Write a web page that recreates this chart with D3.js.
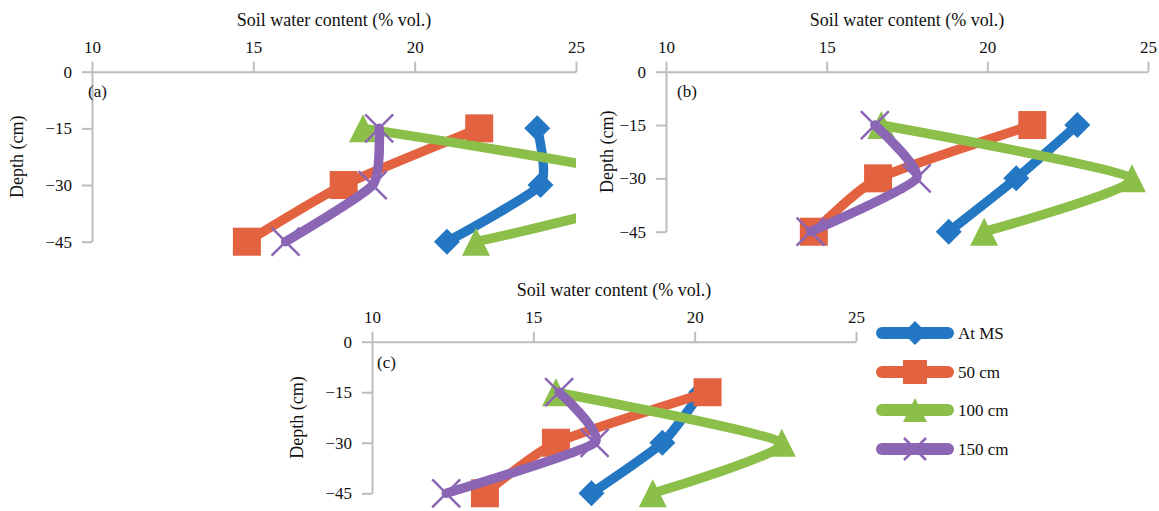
<!DOCTYPE html>
<html>
<head>
<meta charset="utf-8">
<script src="https://cdn.jsdelivr.net/npm/d3@7/dist/d3.min.js"></script>
<style>
  html, body { margin: 0; padding: 0; background: #fff; }
  svg { display: block; }
  svg text { font-family: "Liberation Serif", "Times New Roman", "DejaVu Serif", serif !important; fill: #111; }
</style>
</head>
<body>
<svg id="chart" width="1159" height="511"></svg>
<script>
// ---------- data ----------
const depths = [-15, -30, -45];
const xTicks = [10, 15, 20, 25];
const yTicks = [0, -15, -30, -45];
const seriesNames = ["At MS", "50 cm", "100 cm", "150 cm"];
const panelLabels = ["(a)", "(b)", "(c)"];
const xTitle = "Soil water content (% vol.)";
const yTitle = "Depth (cm)";

// panel (a)
const aAtMS = [23.8, 23.9, 21.0];
const a50   = [22.0, 17.8, 14.8];
const a100  = [18.4, 28.1, 21.9];
const a150  = [18.9, 18.7, 16.0];
// panel (b)
const bAtMS = [22.8, 20.9, 18.8];
const b50   = [21.4, 16.6, 14.6];
const b100  = [16.7, 24.5, 19.9];
const b150  = [16.5, 17.8, 14.5];
// panel (c)
const cAtMS = [20.2, 19.0, 16.8];
const c50   = [20.4, 15.7, 13.5];
const c100  = [15.7, 22.7, 18.7];
const c150  = [15.8, 16.9, 12.3];

// ---------- styles / layout ----------
const FONT = '"Liberation Serif", "Times New Roman", "DejaVu Serif", serif';
const colors = ["#2477c2", "#e3623f", "#8cbf4a", "#8b66b4"];
const shapes = ["diamond", "square", "triangle", "cross"];
const panels = [
  { label: panelLabels[0], series: [aAtMS, a50, a100, a150], x0: 92,  x1: 576,  y0: 71.7,  y1: 241.7, lab: [88, 91],  yt: 17 },
  { label: panelLabels[1], series: [bAtMS, b50, b100, b150], x0: 666, x1: 1148, y0: 71.7,  y1: 231.7, lab: [677, 91], yt: 607 },
  { label: panelLabels[2], series: [cAtMS, c50, c100, c150], x0: 372, x1: 856,  y0: 341.7, y1: 493.3, lab: [377, 362], yt: 297 }
];

const svg = d3.select("#chart");
const defs = svg.append("defs");

function drawMarker(g, shape, color, cx, cy, s) {
  if (shape === "diamond") {
    g.append("path").attr("d", `M${cx},${cy - s/2}L${cx + s/2},${cy}L${cx},${cy + s/2}L${cx - s/2},${cy}Z`).attr("fill", color);
  } else if (shape === "square") {
    g.append("rect").attr("x", cx - s/2).attr("y", cy - s/2).attr("width", s).attr("height", s).attr("fill", color);
  } else if (shape === "triangle") {
    g.append("path").attr("d", `M${cx},${cy - s/2}L${cx + s/2},${cy + s/2}L${cx - s/2},${cy + s/2}Z`).attr("fill", color);
  } else {
    const h = s / 2;
    g.append("path").attr("d", `M${cx - h},${cy - h}L${cx + h},${cy + h}M${cx - h},${cy + h}L${cx + h},${cy - h}`)
      .attr("stroke", color).attr("stroke-width", 2.5).attr("fill", "none");
  }
}

panels.forEach((p, pi) => {
  const x = d3.scaleLinear().domain([10, 25]).range([p.x0, p.x1]);
  const y = d3.scaleLinear().domain([0, -45]).range([p.y0, p.y1]);
  const g = svg.append("g");

  // axes
  const xAxis = d3.axisTop(x).tickValues(xTicks).tickSize(10).tickSizeOuter(0).tickPadding(9).tickFormat(d3.format("d"));
  const yAxis = d3.axisLeft(y).tickValues(yTicks).tickSize(10).tickSizeOuter(0).tickPadding(10).tickFormat(d3.format("d"));
  const gx = g.append("g").attr("transform", `translate(0,${p.y0})`).call(xAxis);
  const gy = g.append("g").attr("transform", `translate(${p.x0},0)`).call(yAxis);
  [gx, gy].forEach(ax => {
    ax.attr("font-family", FONT).attr("font-size", 17);
    ax.selectAll("path.domain").attr("stroke", "#bdbdbd").attr("stroke-width", 2);
    ax.selectAll(".tick line").attr("stroke", "#bdbdbd").attr("stroke-width", 2);
    ax.selectAll(".tick text").attr("font-size", 17).attr("fill", "#111").style("font-family", FONT);
  });

  // titles
  g.append("text").attr("x", (p.x0 + p.x1) / 2).attr("y", p.y0 - 52).attr("dy", "0.35em")
    .attr("text-anchor", "middle").attr("font-size", 18).style("font-family", FONT).text(xTitle);
  g.append("text").attr("transform", `translate(${p.yt},${(p.y0 + p.y1) / 2}) rotate(-90)`)
    .attr("dy", "0.35em").attr("text-anchor", "middle").attr("font-size", 18).style("font-family", FONT).text(yTitle);
  g.append("text").attr("x", p.lab[0]).attr("y", p.lab[1]).attr("dy", "0.35em")
    .attr("font-size", 17).style("font-family", FONT).text(p.label);

  // clip
  const cid = "clip" + pi;
  defs.append("clipPath").attr("id", cid).append("rect")
    .attr("x", p.x0 - 40).attr("y", p.y0 - 10).attr("width", p.x1 - p.x0 + 40).attr("height", p.y1 - p.y0 + 40);

  const line = d3.line().x(d => x(d[0])).y(d => y(d[1])).curve(d3.curveCardinal.tension(0.45));

  p.series.forEach((vals, si) => {
    const pts = vals.map((v, i) => [v, depths[i]]);
    const sg = g.append("g");
    sg.append("path").datum(pts).attr("d", line).attr("fill", "none")
      .attr("stroke", colors[si]).attr("stroke-width", 9.5).attr("stroke-linecap", "round")
      .attr("stroke-linejoin", "round").attr("clip-path", `url(#${cid})`);
    pts.forEach(d => {
      if (d[0] <= 25.5) {
        const size = shapes[si] === "diamond" ? 26 : 28;
        drawMarker(sg, shapes[si], colors[si], x(d[0]), y(d[1]), size);
      }
    });
  });
});

// legend
const legendX0 = 882, legendX1 = 948, legendY = [333, 372, 410, 449];
const lg = svg.append("g");
seriesNames.forEach((name, i) => {
  lg.append("line").attr("x1", legendX0).attr("x2", legendX1).attr("y1", legendY[i]).attr("y2", legendY[i])
    .attr("stroke", colors[i]).attr("stroke-width", 12).attr("stroke-linecap", "round");
  drawMarker(lg, shapes[i], colors[i], (legendX0 + legendX1) / 2, legendY[i], i === 3 ? 22 : 24);
  lg.append("text").attr("x", 958).attr("y", legendY[i]).attr("dy", "0.35em").attr("font-size", 17)
    .style("font-family", FONT).text(name);
});
</script>
</body>
</html>
